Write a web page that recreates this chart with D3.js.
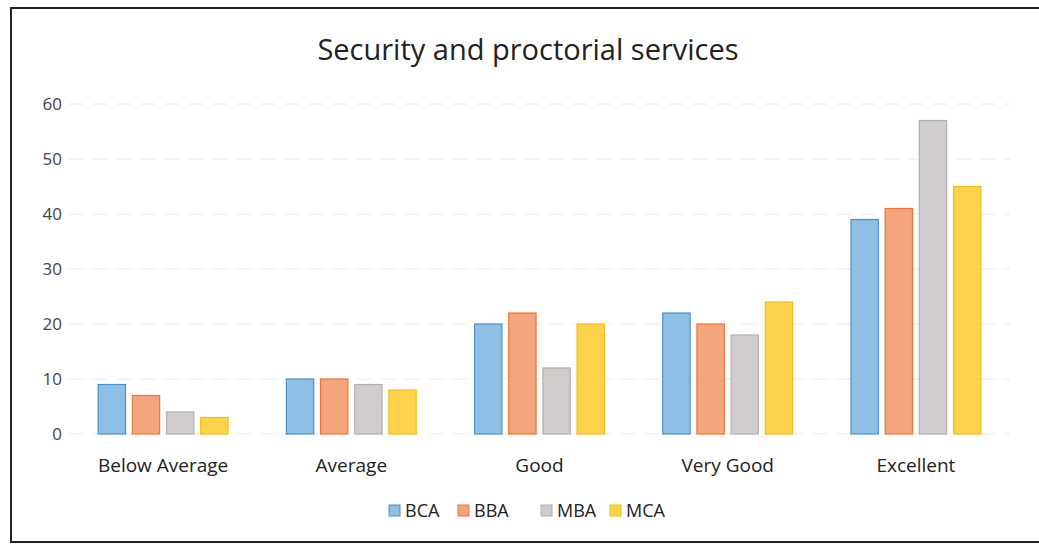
<!DOCTYPE html>
<html>
<head>
<meta charset="utf-8">
<script src="https://cdn.jsdelivr.net/npm/d3@7/dist/d3.min.js"></script>
<style>
html,body{margin:0;padding:0;background:#fff;}
svg{display:block;}
</style>
</head>
<body>
<svg id="chart" width="1039" height="546"></svg>
<script>
const categories = ["Below Average", "Average", "Good", "Very Good", "Excellent"];
const seriesNames = ["BCA", "BBA", "MBA", "MCA"];
const BCA = [9, 10, 20, 22, 39];
const BBA = [7, 10, 22, 20, 41];
const MBA = [4, 9, 12, 18, 57];
const MCA = [3, 8, 20, 24, 45];
const yTicks = [0, 10, 20, 30, 40, 50, 60];
const title = "Security and proctorial services";

const seriesValues = [BCA, BBA, MBA, MCA];
const colors = ["#8ec0e6", "#f5a57c", "#cfcccb", "#fcd34a"];
const strokes = ["#4a90d0", "#ee7433", "#b3afae", "#f4bd14"];

const svg = d3.select("#chart");
const W = 1039, H = 546;
const font = "'Open Sans', 'Liberation Sans', sans-serif";

// frame
svg.append("rect").attr("x", 11).attr("y", 8).attr("width", 1060).attr("height", 534)
  .attr("fill", "none").attr("stroke", "#222").attr("stroke-width", 2);

const margin = {left: 69, right: 29, top: 104, bottom: 112};
const x0 = d3.scaleBand().domain(categories).range([margin.left, W - margin.right]).paddingInner(0.31).paddingOuter(0.155);
const x1 = d3.scaleBand().domain(seriesNames).range([0, x0.bandwidth()]).paddingInner(0.2).paddingOuter(0);
const y = d3.scaleLinear().domain([0, 60]).range([H - margin.bottom, margin.top]);

// gridlines
svg.append("g").selectAll("line").data(yTicks).join("line")
  .attr("x1", margin.left).attr("x2", W - margin.right)
  .attr("y1", d => y(d)).attr("y2", d => y(d))
  .attr("stroke", "#e8e8e8").attr("stroke-width", 1).attr("stroke-dasharray", "14,10");

// y axis labels
const yAxis = d3.axisLeft(y).tickValues(yTicks).tickSize(0).tickPadding(0);
const ga = svg.append("g").attr("transform", `translate(${margin.left - 7},0)`).call(yAxis);
ga.select(".domain").remove();
ga.selectAll("text").attr("font-family", font).attr("font-size", 17).attr("fill", "#444").attr("text-anchor", "end");

// bars
const groups = svg.append("g").selectAll("g").data(categories).join("g")
  .attr("transform", d => `translate(${x0(d)},0)`);
groups.selectAll("rect").data((c, i) => seriesNames.map((s, j) => ({s, j, v: seriesValues[j][i]})))
  .join("rect")
  .attr("x", d => x1(d.s)).attr("width", x1.bandwidth())
  .attr("y", d => y(d.v)).attr("height", d => y(0) - y(d.v))
  .attr("fill", d => colors[d.j]).attr("stroke", d => strokes[d.j]).attr("stroke-width", 1.2);

// x axis labels
const xAxis = d3.axisBottom(x0).tickSize(0).tickPadding(0);
const gx = svg.append("g").attr("transform", `translate(0,${y(0) + 31})`).call(xAxis);
gx.select(".domain").remove();
gx.selectAll("text").attr("font-family", font).attr("font-size", 19).attr("fill", "#222").attr("dy", "0.35em");

// title
svg.append("text").attr("x", 528).attr("y", 60).attr("text-anchor", "middle")
  .attr("font-family", font).attr("font-size", 29).attr("fill", "#222").text(title);

// legend
const legendX = [389, 458, 541, 610];
const lg = svg.append("g").selectAll("g").data(seriesNames).join("g")
  .attr("transform", (d, i) => `translate(${legendX[i]},511)`);
lg.append("rect").attr("x", 0).attr("y", -6).attr("width", 11).attr("height", 11)
  .attr("fill", (d, i) => colors[i]).attr("stroke", (d, i) => strokes[i]);
lg.append("text").attr("x", 16).attr("y", 0).attr("dy", "0.35em")
  .attr("font-family", font).attr("font-size", 18).attr("fill", "#222").text(d => d);
</script>
</body>
</html>
